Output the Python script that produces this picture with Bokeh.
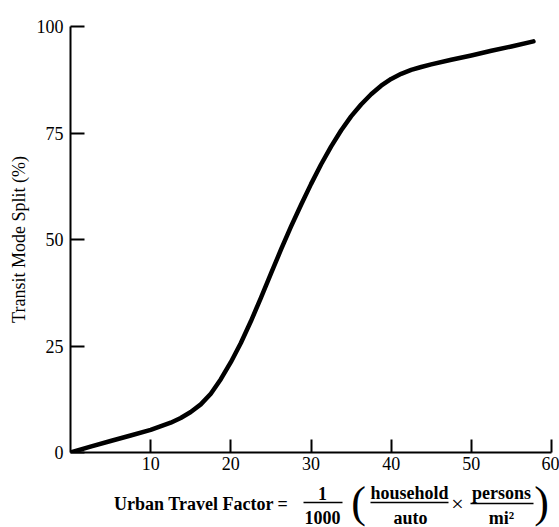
from bokeh.plotting import figure
from bokeh.models import Range1d, FixedTicker
from bokeh.layouts import column
from bokeh.core.properties import value
from bokeh.embed import file_html
from bokeh.resources import INLINE

# ---- data ----
factor = [0, 2.5, 5, 7.5, 10, 12.5, 13.75, 15, 16.25, 17.5, 18.75, 20, 21.25,
          22.5, 23.75, 25, 26.25, 27.5, 28.75, 30, 31.25, 32.5, 33.75, 35,
          36.25, 37.5, 38.75, 40, 41.25, 42.5, 43.75, 45, 47.5, 50, 52.5, 55, 57.75]
split = [0, 1.4, 2.7, 4.0, 5.3, 7.0, 8.1, 9.5, 11.3, 13.8, 17.2, 21.2, 25.7,
         30.8, 36.3, 42.0, 47.6, 53.0, 58.1, 63.0, 67.6, 71.8, 75.6, 78.9,
         81.7, 84.1, 86.1, 87.7, 88.9, 89.8, 90.5, 91.1, 92.2, 93.2, 94.3, 95.3, 96.5]
x_ticks = [10, 20, 30, 40, 50, 60]
y_ticks = [0, 25, 50, 75, 100]
y_title = "Transit Mode Split (%)"
x_title = "Urban Travel Factor ="
numerators = ["1", "household", "persons"]
denominators = ["1000", "auto", "mi\u00b2"]

SERIF = "Liberation Serif"
W = 559
LEFT, RIGHT = 70, 8

p = figure(width=W, height=477, output_backend="svg", toolbar_location=None,
           x_range=Range1d(0, 60), y_range=Range1d(0, 100),
           min_border_left=LEFT, min_border_right=RIGHT, min_border_top=26,
           min_border_bottom=25)
p.outline_line_color = None
p.xgrid.grid_line_color = None
p.ygrid.grid_line_color = None

p.line(factor, split, line_width=4.5, line_color="black", line_cap="round",
       line_join="round")

for ax in (p.xaxis[0], p.yaxis[0]):
    ax.axis_line_width = 2
    ax.axis_line_color = "black"
    ax.major_tick_line_width = 2
    ax.major_tick_line_color = "black"
    ax.major_tick_out = 0
    ax.minor_tick_line_color = None
    ax.major_label_text_font = SERIF
    ax.major_label_text_font_size = "18px"
    ax.major_label_text_color = "black"

p.xaxis[0].ticker = FixedTicker(ticks=x_ticks)
p.yaxis[0].ticker = FixedTicker(ticks=y_ticks)
p.xaxis[0].major_tick_in = 13
p.yaxis[0].major_tick_in = 14
p.xaxis[0].major_label_standoff = 4
p.yaxis[0].major_label_standoff = 7
p.yaxis[0].axis_label = y_title
p.yaxis[0].axis_label_text_font = SERIF
p.yaxis[0].axis_label_text_font_size = "18px"
p.yaxis[0].axis_label_text_font_style = "normal"
p.yaxis[0].axis_label_text_color = "black"
p.yaxis[0].axis_label_standoff = 5

# ---- formula strip below the chart (x in page pixels, y up from page bottom) ----
H2 = 50
q = figure(width=W, height=H2, output_backend="svg", toolbar_location=None,
           x_range=Range1d(LEFT, W - RIGHT), y_range=Range1d(0, H2),
           x_axis_type=None, y_axis_type=None,
           min_border_left=LEFT, min_border_right=RIGHT, min_border_top=0,
           min_border_bottom=0)
q.outline_line_color = None
q.xgrid.grid_line_color = None
q.ygrid.grid_line_color = None

common = dict(text_font=value(SERIF), text_color="black", text_baseline="middle")
q.text(x=[288], y=[23.5], text=[x_title], text_font_size="18px",
       text_font_style="bold", text_align="right", **common)
q.text(x=[322, 409, 501], y=[34.5, 34.5, 34.5], text=numerators, text_font_size="18px",
       text_font_style="bold", text_align="center", **common)
q.text(x=[322, 410, 501], y=[10, 10, 10], text=denominators, text_font_size="18px",
       text_font_style="bold", text_align="center", **common)
q.segment(x0=[303, 370, 470], x1=[342, 448, 533], y0=[25, 25, 24], y1=[25, 25, 24],
          line_width=1.6, line_color="black")
q.text(x=[457], y=[24], text=["\u00d7"], text_font_size="22px",
       text_align="center", **common)
q.text(x=[358, 541], y=[25, 25], text=["(", ")"], text_font_size="44px",
       text_align="center", **common)

layout = column(p, q, spacing=0)
open("out.html", "w").write(file_html(layout, INLINE))
